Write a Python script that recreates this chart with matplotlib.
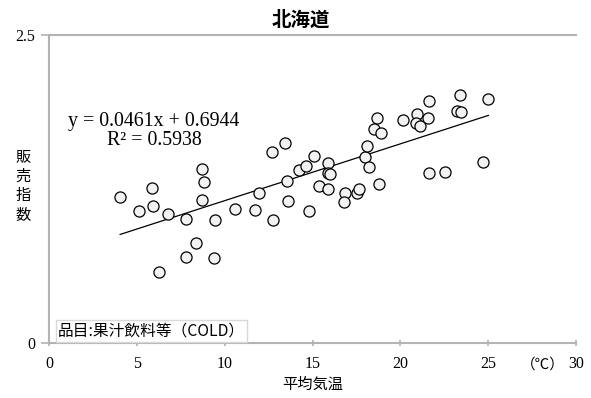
import numpy as np
import matplotlib
matplotlib.use("Agg")
import matplotlib.pyplot as plt

# ---- data ----
temp = [4.05, 5.13, 5.87, 5.93, 6.78, 7.81, 8.72, 8.83, 8.72, 9.46,
        10.60, 8.38, 7.81, 9.40, 6.27, 11.74, 12.76, 11.97, 12.71, 13.45,
        13.56, 13.62, 14.82, 14.25, 14.64, 15.10, 15.38, 15.90, 15.90, 16.01,
        15.90, 16.87, 16.81, 17.55, 17.66, 18.01, 18.12, 18.23, 18.69, 18.52,
        18.92, 18.80, 20.17, 20.97, 20.91, 21.14, 21.60, 21.65, 21.65, 22.56,
        23.25, 23.48, 23.42, 24.73, 25.01]
sales = [1.185, 1.071, 1.258, 1.112, 1.047, 1.006, 1.412, 1.307, 1.161, 0.998,
         1.088, 0.812, 0.698, 0.690, 0.576, 1.080, 0.998, 1.218, 1.550, 1.623,
         1.315, 1.153, 1.071, 1.404, 1.437, 1.518, 1.274, 1.461, 1.380, 1.372,
         1.250, 1.218, 1.144, 1.218, 1.250, 1.510, 1.599, 1.429, 1.826, 1.737,
         1.705, 1.291, 1.810, 1.859, 1.786, 1.761, 1.826, 1.964, 1.380, 1.388,
         1.883, 1.875, 2.013, 1.469, 1.981]
slope = 0.0461
intercept = 0.6944
r2 = 0.5938
x_ticks = [0, 5, 10, 15, 20, 25, 30]
y_ticks = [0, 2.5]
title = "北海道"
x_label = "平均気温"
y_label = "販\n売\n指\n数"
unit_label = "（℃）"
item_label = "品目:果汁飲料等（COLD）"

SERIF = ["Liberation Serif", "DejaVu Serif"]
CJK = ["Noto Sans CJK JP", "DejaVu Sans"]
GRAY = "#b3b3b3"

W, H = 591, 398
fig = plt.figure(figsize=(W / 100, H / 100), dpi=100)
L, R, T, B = 49, 576, 35, 343
ax = fig.add_axes([L / W, 1 - B / H, (R - L) / W, (B - T) / H])
ax.set_xlim(0, 30)
ax.set_ylim(0, 2.5)

ax.scatter(temp, sales, s=64, facecolor="#f2f2f2", edgecolor="black",
           linewidth=0.9, zorder=3, clip_on=False)

xs = np.array([min(temp), max(temp)])
ax.plot(xs, slope * xs + intercept, color="black", linewidth=0.9, zorder=2)

for side in ["top", "right"]:
    ax.spines[side].set_visible(False)
for side in ["left", "bottom"]:
    ax.spines[side].set_color(GRAY)
    ax.spines[side].set_linewidth(1.5)
ax.axhline(2.5, color=GRAY, linewidth=1.5, clip_on=False)

ax.set_xticks(x_ticks)
ax.set_yticks(y_ticks)
ax.set_yticklabels(["0", "2.5"])
ax.tick_params(axis="x", direction="inout", length=5, width=1.2, color=GRAY,
               pad=7, labelsize=11.5)
ax.tick_params(axis="y", direction="out", length=6, width=1.2, color=GRAY,
               pad=4, labelsize=11.5)
for lab in ax.get_xticklabels() + ax.get_yticklabels():
    lab.set_family(SERIF)

def fx(px):
    return px / W

def fy(py):
    return 1 - py / H

fig.text(fx(154), fy(131), f"y = {slope}x + {intercept}\nR² = {r2}",
         ha="center", va="center", family=SERIF, fontsize=14.3,
         linespacing=1.0)

fig.text(fx(301), fy(20), title, ha="center", va="center", family=CJK,
         fontsize=14, fontweight="bold")
fig.text(fx(313), fy(384), x_label, ha="center", va="center", family=CJK,
         fontsize=11)
fig.text(fx(23), fy(186), y_label, ha="center", va="center", family=CJK,
         fontsize=11, linespacing=1.2)
fig.text(fx(543), fy(365), unit_label, ha="center", va="center",
         family=CJK, fontsize=10.5)
fig.text(fx(58), fy(331), item_label, ha="left", va="center", family=CJK,
         fontsize=11.3,
         bbox=dict(boxstyle="square,pad=0.15", facecolor="white",
                   edgecolor="#d9d9d9", linewidth=1))

fig.savefig("out.png", dpi=100)
